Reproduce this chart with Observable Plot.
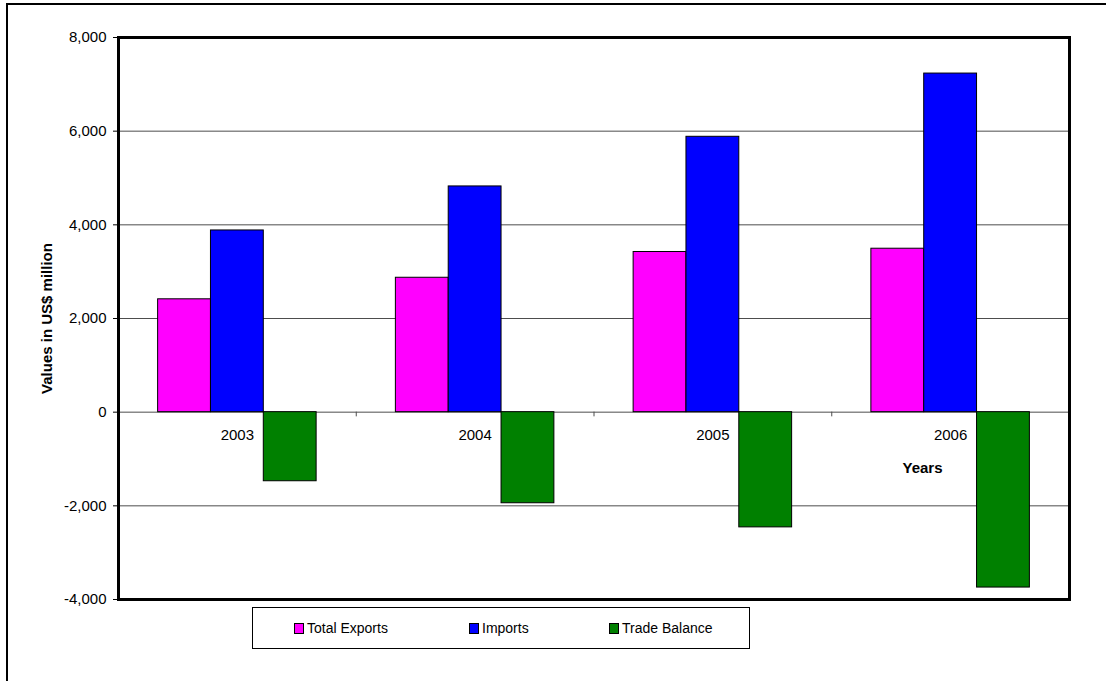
<!DOCTYPE html>
<html>
<head>
<meta charset="utf-8">
<script src="https://cdn.jsdelivr.net/npm/d3@7"></script>
<script src="https://cdn.jsdelivr.net/npm/@observablehq/plot@0.6"></script>
<style>
  body { margin: 0; background: #fff; font-family: "Liberation Sans", Arial, sans-serif; }
  #wrap { position: relative; width: 1106px; height: 681px; overflow: hidden; background: #fff; }
  #outer { position: absolute; left: 6px; top: 3px; width: 1200px; height: 800px;
           border-left: 2px solid #000; border-top: 2px solid #000; }
  #chart { position: absolute; left: 0; top: 0; }
  #legend { position: absolute; left: 252px; top: 607px; width: 498px; height: 42px;
            border: 1px solid #000; box-sizing: border-box; background: #fff; }
  .item { position: absolute; top: 0; height: 40px; display: flex; align-items: center;
          font-size: 14px; color: #000; white-space: nowrap; }
  .sw { width: 8px; height: 9px; border: 1px solid #000; margin-right: 3px; }
</style>
</head>
<body>
<div id="wrap">
  <div id="outer"></div>
  <div id="chart"></div>
  <div id="legend"></div>
</div>
<script>
// ---- data ----
const years = ["2003", "2004", "2005", "2006"];
const seriesNames = ["Total Exports", "Imports", "Trade Balance"];
const exportsVals = [2410, 2870, 3420, 3490];
const importsVals = [3880, 4820, 5880, 7230];
const balanceVals = [-1475, -1945, -2460, -3745];
const seriesColors = ["#FF00FF", "#0000FF", "#008000"];
const yTicks = [-4000, -2000, 0, 2000, 4000, 6000, 8000];
const yLabel = "Values in US$ million";
const xLabel = "Years";

const seriesVals = [exportsVals, importsVals, balanceVals];
const rows = years.flatMap((yr, i) =>
  seriesNames.map((s, j) => ({ year: yr, i, j, series: s, value: seriesVals[j][i] }))
);
// each category occupies one unit; the group of three bars fills its middle two thirds
const groupStart = 1 / 6, barUnit = 2 / 9;

const fmt = d => d.toLocaleString("en-US");

const plot = Plot.plot({
  width: 1106,
  height: 681,
  marginLeft: 118,
  marginRight: 37,
  marginTop: 37,
  marginBottom: 82,
  style: { fontFamily: "'Liberation Sans', Arial, sans-serif", fontSize: "15px", color: "#000", background: "transparent" },
  x: { domain: [0, years.length], axis: null },
  y: { domain: [yTicks[0], yTicks[yTicks.length - 1]], axis: null },
  color: { domain: seriesNames, range: seriesColors },
  marks: [
    Plot.gridY(yTicks.slice(1, -1), { stroke: "#4d4d4d", strokeOpacity: 1, strokeWidth: 1 }),
    Plot.ruleX(d3.range(1, years.length), { y1: 0, y2: -100, stroke: "#4d4d4d" }),
    Plot.rect(rows, {
      x1: d => d.i + groupStart + d.j * barUnit,
      x2: d => d.i + groupStart + (d.j + 1) * barUnit,
      y1: 0,
      y2: "value",
      fill: "series",
      stroke: "#000",
      strokeWidth: 1
    }),
    Plot.text(years, { x: (d, i) => i + 0.5, y: 0, dy: 23, text: d => d, fontSize: 15, fill: "#000" }),
    Plot.axisY({ ticks: yTicks, tickFormat: fmt, tickSize: 5, tickPadding: 7, label: null, fontSize: 15, stroke: "#000" }),
    Plot.text([xLabel], { frameAnchor: "right", dx: -147, dy: 150, textAnchor: "middle", text: d => d, fontWeight: "bold", fontSize: 15, fill: "#000" }),
    Plot.text([yLabel], { frameAnchor: "left", dx: -71, rotate: -90, textAnchor: "middle", text: d => d, fontWeight: "bold", fontSize: 15, fill: "#000" }),
    Plot.frame({ stroke: "#000", strokeWidth: 3 })
  ]
});
document.getElementById("chart").appendChild(plot);

// ---- legend ----
const legendPos = [41, 216, 356];
const legend = document.getElementById("legend");
seriesNames.forEach((name, k) => {
  const it = document.createElement("div");
  it.className = "item";
  it.style.left = legendPos[k] + "px";
  const sw = document.createElement("div");
  sw.className = "sw";
  sw.style.background = seriesColors[k];
  it.appendChild(sw);
  it.appendChild(document.createTextNode(name));
  legend.appendChild(it);
});
</script>
</body>
</html>
